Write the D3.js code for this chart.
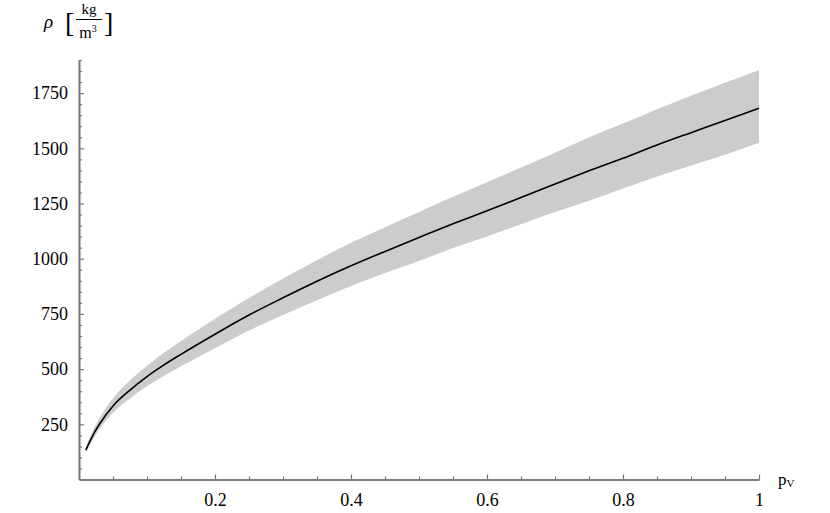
<!DOCTYPE html>
<html>
<head>
<meta charset="utf-8">
<script src="https://cdn.jsdelivr.net/npm/d3@7"></script>
<style>
  html, body { margin: 0; padding: 0; background: #fff; }
  svg { display: block; }
  text { font-family: "Liberation Serif", "Times New Roman", serif; fill: #000; }
</style>
</head>
<body>
<svg id="chart" width="830" height="513"></svg>
<script>
// ---- data ----
const pV      = [0.01, 0.02, 0.03, 0.05, 0.075, 0.1, 0.125, 0.15, 0.2, 0.25, 0.3, 0.35, 0.4, 0.45, 0.5, 0.55, 0.6, 0.65, 0.7, 0.75, 0.8, 0.85, 0.9, 0.95, 1.0];
const rhoMean = [133, 198, 250, 333, 405, 466, 519, 567, 658, 745, 823, 898, 968, 1033, 1096, 1158, 1217, 1277, 1338, 1398, 1455, 1515, 1571, 1626, 1682];
const rhoUpper= [146, 218, 276, 368, 448, 515, 574, 627, 728, 822, 910, 993, 1072, 1143, 1212, 1281, 1346, 1413, 1480, 1550, 1612, 1677, 1738, 1797, 1855];
const rhoLower= [121, 179, 226, 302, 367, 422, 470, 513, 595, 675, 745, 812, 876, 935, 990, 1048, 1101, 1156, 1211, 1262, 1318, 1372, 1422, 1471, 1525];
const xMajorTicks = [0.2, 0.4, 0.6, 0.8, 1];
const xTickLabels = ["0.2", "0.4", "0.6", "0.8", "1"];
const yMajorTicks = [250, 500, 750, 1000, 1250, 1500, 1750];
const yTickLabels = ["250", "500", "750", "1000", "1250", "1500", "1750"];

const rows = pV.map((p, i) => ({ p, m: rhoMean[i], u: rhoUpper[i], l: rhoLower[i] }));

const svg = d3.select("#chart");
const x = d3.scaleLinear().domain([0, 1]).range([79, 759]);
const y = d3.scaleLinear().domain([0, 1900]).range([479.5, 60]);

// band
svg.append("path")
  .datum(rows)
  .attr("fill", "#cccccc")
  .attr("stroke", "none")
  .attr("d", d3.area().curve(d3.curveMonotoneX).x(d => x(d.p)).y0(d => y(d.l)).y1(d => y(d.u)));

// mean line
svg.append("path")
  .datum(rows)
  .attr("fill", "none")
  .attr("stroke", "#000")
  .attr("stroke-width", 1.6)
  .attr("stroke-linejoin", "round")
  .attr("d", d3.line().curve(d3.curveMonotoneX).x(d => x(d.p)).y(d => y(d.m)));

const axisColor = "#777";

// x axis: minor ticks
const xMinor = d3.range(1, 21).map(i => i * 0.05).filter(v => !xMajorTicks.some(t => Math.abs(t - v) < 1e-9));
const gxMinor = svg.append("g").attr("transform", `translate(0,${y(0)})`)
  .call(d3.axisBottom(x).tickValues(xMinor).tickSizeInner(-3).tickSizeOuter(0).tickFormat(""));
const gx = svg.append("g").attr("transform", `translate(0,${y(0)})`)
  .call(d3.axisBottom(x).tickValues(xMajorTicks).tickSizeInner(-5).tickSizeOuter(0).tickPadding(14)
    .tickFormat((d, i) => xTickLabels[i]));

// y axis
const yMinor = d3.range(1, 39).map(i => i * 50).filter(v => !yMajorTicks.includes(v));
const gyMinor = svg.append("g").attr("transform", `translate(${x(0)},0)`)
  .call(d3.axisLeft(y).tickValues(yMinor).tickSizeInner(-3).tickSizeOuter(0).tickFormat(""));
const gy = svg.append("g").attr("transform", `translate(${x(0)},0)`)
  .call(d3.axisLeft(y).tickValues(yMajorTicks).tickSizeInner(-5).tickSizeOuter(0).tickPadding(11)
    .tickFormat((d, i) => yTickLabels[i]));

[gx, gxMinor, gy, gyMinor].forEach(g => {
  g.selectAll(".domain").attr("stroke", axisColor).attr("stroke-width", 1.6);
  g.selectAll(".tick line").attr("stroke", axisColor).attr("stroke-width", 1.2);
  g.selectAll("text").attr("font-family", "Liberation Serif, serif").attr("font-size", 18).attr("fill", "#000");
});

// axis titles
const xt = svg.append("text").attr("x", 778).attr("y", 485).attr("font-size", 17);
xt.append("tspan").text("p");
xt.append("tspan").attr("font-size", 11).attr("dy", 2).text("V");

svg.append("text").attr("x", 44).attr("y", 28).attr("font-size", 19).attr("font-style", "italic").text("ρ");
svg.append("text").attr("x", 65).attr("y", 32).attr("font-size", 28).attr("font-weight", 100).text("[");
svg.append("text").attr("x", 104).attr("y", 32).attr("font-size", 28).attr("font-weight", 100).text("]");
svg.append("text").attr("x", 89).attr("y", 14).attr("font-size", 15).attr("text-anchor", "middle").text("kg");
svg.append("line").attr("x1", 76).attr("x2", 102).attr("y1", 19.5).attr("y2", 19.5).attr("stroke", "#000").attr("stroke-width", 1);
const mt = svg.append("text").attr("x", 88).attr("y", 38).attr("font-size", 16).attr("text-anchor", "middle");
mt.append("tspan").text("m");
mt.append("tspan").attr("font-size", 10).attr("dy", -6).text("3");
</script>
</body>
</html>
